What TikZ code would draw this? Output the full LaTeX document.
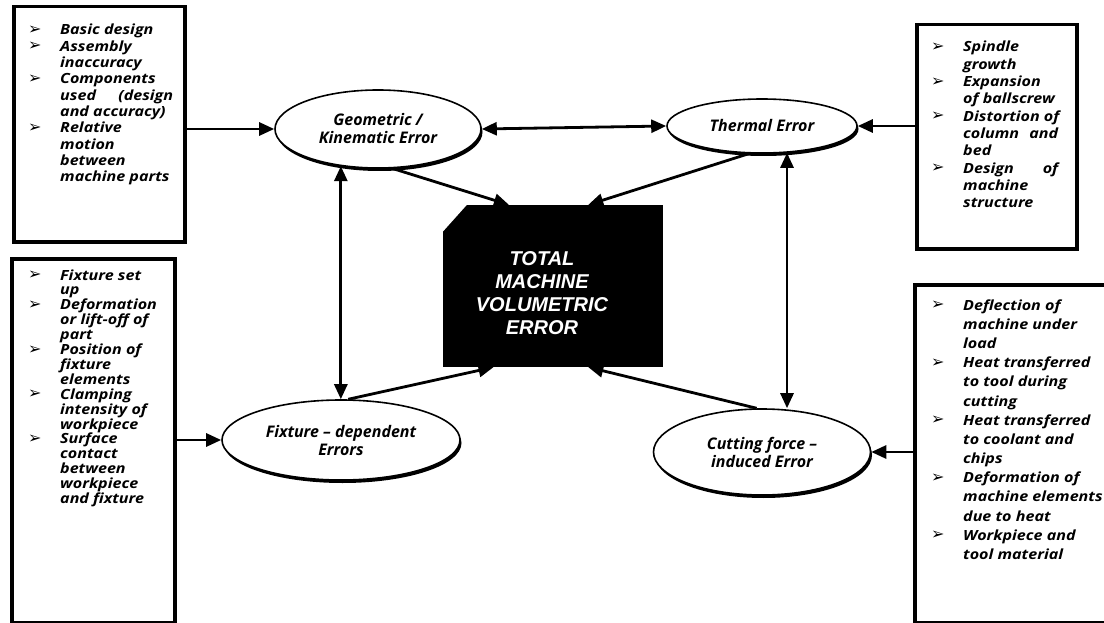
\documentclass[tikz,border=0pt]{standalone}
\usepackage{fontspec}
\setmainfont{Open Sans}
\newfontfamily\widefont{Open Sans}[FakeStretch=1.15]
\newfontfamily\arialf{Liberation Sans}
\newfontfamily\symf{DejaVu Sans}
\usetikzlibrary{arrows.meta,shapes.geometric,shadows,calc}
\newcommand\bul{\makebox[32pt][l]{\raisebox{0.5pt}{\symf\bfseries\fontsize{16}{16}\selectfont ➢}}}
\newcommand\li[1]{\hbox{\bul#1}}
\newcommand\lc[1]{\hbox{\hskip32pt#1}}
\newcommand\lfont{\bfseries\itshape\fontsize{16}{18}\selectfont}
\newcommand\lst[2]{\vtop{\widefont\bfseries\itshape\fontsize{14}{#1}\selectfont\lineskiplimit=-50pt\lineskip=0pt #2}}
\begin{document}
\begin{tikzpicture}[x=1pt,y=-1pt,
  tip/.tip={Triangle[length=15pt,width=13pt]},
  arr/.style={line width=2.8pt,-tip},
  dbl/.style={line width=2.8pt,tip-tip},
  ell/.style={ellipse,draw,line width=1.6pt,fill=white,inner sep=0pt,align=center,font=\lfont,
    drop shadow={fill=black,opacity=1,shadow xshift=1.5pt,shadow yshift=-3pt}},
  box/.style={draw,line width=3.5pt,inner sep=0pt},
  lstnode/.style={inner sep=0pt,anchor=base west}
]
\useasboundingbox (0,0) rectangle (1104,623);
\fill[white] (0,0) rectangle (1104,623);

% side boxes
\node[box,anchor=north west,minimum width=171pt,minimum height=235pt] (tl) at (12,5) {};
\node[box,anchor=north west,minimum width=160pt,minimum height=224pt] (tr) at (915,23) {};
\node[box,anchor=north west,minimum width=163pt,minimum height=364pt] (bl) at (10,257) {};
\node[box,anchor=north west,minimum width=200pt,minimum height=338pt] (br) at (913,283) {};

% lists
\node[lstnode] (tltxt) at (28,35) {\lst{16.3pt}{%
\li{Basic design}
\li{Assembly}
\lc{inaccuracy}
\li{Components}
\lc{\hbox to 113pt{used\hfill(design}}
\lc{and accuracy)}
\li{Relative}
\lc{motion}
\lc{between}
\lc{machine parts}}};

\node[lstnode] (trtxt) at (931,52) {\lst{17.3pt}{%
\li{Spindle}
\lc{growth}
\li{Expansion}
\lc{of ballscrew}
\li{Distortion of}
\lc{\hbox to 95pt{column\hfill and}}
\lc{bed}
\li{\hbox to 95pt{Design\hfill of}}
\lc{machine}
\lc{structure}}};

\node[lstnode] (bltxt) at (28,280) {\lst{14.9pt}{%
\li{Fixture set}
\lc{up}
\li{Deformation}
\lc{or lift-off of}
\lc{part}
\li{Position of}
\lc{fixture}
\lc{elements}
\li{Clamping}
\lc{intensity of}
\lc{workpiece}
\li{Surface}
\lc{contact}
\lc{between}
\lc{workpiece}
\lc{and fixture}}};

\node[lstnode] (brtxt) at (931,310) {\lst{19.2pt}{%
\li{Deflection of}
\lc{machine under}
\lc{load}
\li{Heat transferred}
\lc{to tool during}
\lc{cutting}
\li{Heat transferred}
\lc{to coolant and}
\lc{chips}
\li{Deformation of}
\lc{machine elements}
\lc{due to heat}
\li{Workpiece and}
\lc{tool material}}};

% ellipses
\node[ell,minimum width=206pt,minimum height=78pt] (geo) at (378,129) {Geometric /\\Kinematic Error};
\node[ell,minimum width=190pt,minimum height=54pt] (therm) at (762,126) {Thermal Error};
\node[ell,minimum width=238pt,minimum height=80pt] (fix) at (341,440) {Fixture -- dependent\\Errors};
\node[ell,minimum width=217pt,minimum height=86pt] (cut) at (762,452) {Cutting force --\\induced Error};

% central block
\node[fill=black,minimum width=220pt,minimum height=162pt,inner sep=0pt] (tot) at (553,286) {};
\fill[white] ([xshift=-1pt,yshift=1pt]tot.north west) -- ([xshift=25pt,yshift=1pt]tot.north west) -- ([xshift=-1pt,yshift=-28pt]tot.north west) -- cycle;
\node[text=white,align=center,inner sep=0pt,font=\arialf\bfseries\itshape\fontsize{20}{23}\selectfont] (totlbl) at (542,293) {TOTAL\\MACHINE\\VOLUMETRIC\\ERROR};

% connectors
\draw[arr] (tl.east |- geo.west) -- (geo.west);
\draw[arr] (tr.west |- therm.east) -- (therm.east);
\draw[arr] (bl.east |- fix.west) -- (fix.west);
\draw[arr] (br.west |- cut.east) -- (cut.east);
\draw[dbl] (geo.east) -- (therm.west);
\draw[dbl] (geo.225) -- (geo.225 |- fix.north);
\draw[dbl] (therm.313) -- (therm.313 |- cut.north);
\draw[arr] (geo.290) -- ($(tot.north west)!0.3!(tot.north east)$);
\draw[arr] (therm.245) -- ($(tot.north west)!0.66!(tot.north east)$);
\draw[arr] (fix.80) -- ($(tot.south west)!0.23!(tot.south east)$);
\draw[arr] (cut.97) -- ($(tot.south west)!0.66!(tot.south east)$);
\end{tikzpicture}
\end{document}
